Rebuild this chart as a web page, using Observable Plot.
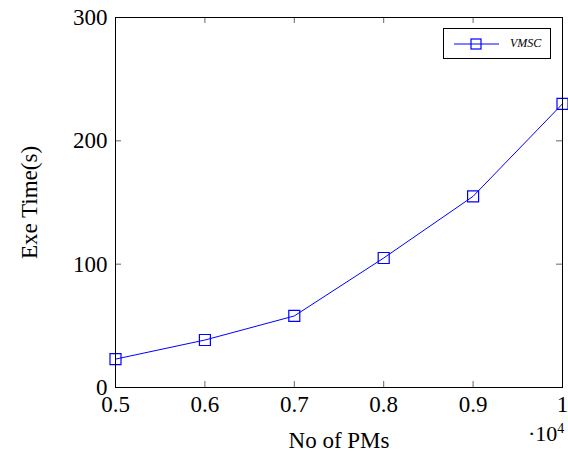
<!DOCTYPE html>
<html>
<head>
<meta charset="utf-8">
<script src="https://cdn.jsdelivr.net/npm/d3@7"></script>
<script src="https://cdn.jsdelivr.net/npm/@observablehq/plot@0.6"></script>
<style>
  body { margin: 0; background: #fff; }
</style>
</head>
<body style="margin:0;font-family:'Liberation Serif'">
<div id="wrap" style="position:relative;width:568px;height:462px;font-family:'Liberation Serif'">
  <div id="chart"></div>
  <div id="legend" style="position:absolute;left:443px;top:28px;width:108px;height:31px;border:1px solid #000;background:#fff;box-sizing:border-box;display:flex;align-items:center">
    <svg width="50" height="20" style="margin-left:10px"><line x1="0" y1="10" x2="45" y2="10" stroke="#0000ff" stroke-width="1"/><rect x="17" y="5" width="10" height="10" fill="none" stroke="#0000ff" stroke-width="1.2"/></svg>
    <span style="font-style:italic;font-size:12px;margin-left:6px;font-family:'Liberation Serif'">VMSC</span>
  </div>
  <div id="mult" style="position:absolute;left:528px;top:421px;font-size:22px;font-family:'Liberation Serif'">·10<sup style="font-size:14px">4</sup></div>
</div>
<script>
const pms = [0.5, 0.6, 0.7, 0.8, 0.9, 1.0];
const vmsc = [23, 38.5, 58, 105, 155, 230];
const xTicks = [0.5, 0.6, 0.7, 0.8, 0.9, 1];
const yTicks = [0, 100, 200, 300];

const data = pms.map((x, i) => ({x, y: vmsc[i]}));

const W = 568, H = 462;
const mL = 115, mR = 6, mT = 17, mB = 75;
const pw = W - mL - mR, ph = H - mT - mB;
const tk = 6;
const font = "Liberation Serif";

const chart = Plot.plot({
  width: W, height: H,
  marginLeft: mL, marginRight: mR, marginTop: mT, marginBottom: mB,
  style: {fontFamily: font, background: "#fff", color: "#000"},
  x: {domain: [0.5, 1]},
  y: {domain: [0, 300]},
  marks: [
    Plot.tickX(xTicks, {x: d => d, insetTop: ph - tk, stroke: "#666", strokeWidth: 1}),
    Plot.tickX(xTicks, {x: d => d, insetBottom: ph - tk, stroke: "#666", strokeWidth: 1}),
    Plot.tickY(yTicks, {y: d => d, insetRight: pw - tk, stroke: "#666", strokeWidth: 1}),
    Plot.tickY(yTicks, {y: d => d, insetLeft: pw - tk, stroke: "#666", strokeWidth: 1}),
    Plot.axisX(xTicks, {anchor: "bottom", tickSize: 0, tickPadding: 8, fontSize: 23, fontFamily: font, tickFormat: d => String(d),
      label: "No of PMs", labelAnchor: "center", labelArrow: "none", labelOffset: 60}),
    Plot.axisY(yTicks, {anchor: "left", tickSize: 0, tickPadding: 8, fontSize: 23, fontFamily: font,
      label: "Exe Time(s)", labelAnchor: "center", labelArrow: "none", labelOffset: 95}),
    Plot.line(data, {x: "x", y: "y", stroke: "#0000ff", strokeWidth: 1}),
    Plot.dot(data, {x: "x", y: "y", symbol: "square", r: 6.2, stroke: "#0000ff", fill: "none", strokeWidth: 1.2}),
    Plot.frame({stroke: "#000", strokeWidth: 1})
  ]
});
chart.querySelectorAll("g, text").forEach(el => {
  if (el.hasAttribute("font-family")) el.setAttribute("font-family", font);
  if (el.tagName === "text") el.style.setProperty("font-family", "'Liberation Serif'", "important");
});
document.getElementById("chart").appendChild(chart);
</script>
</body>
</html>
